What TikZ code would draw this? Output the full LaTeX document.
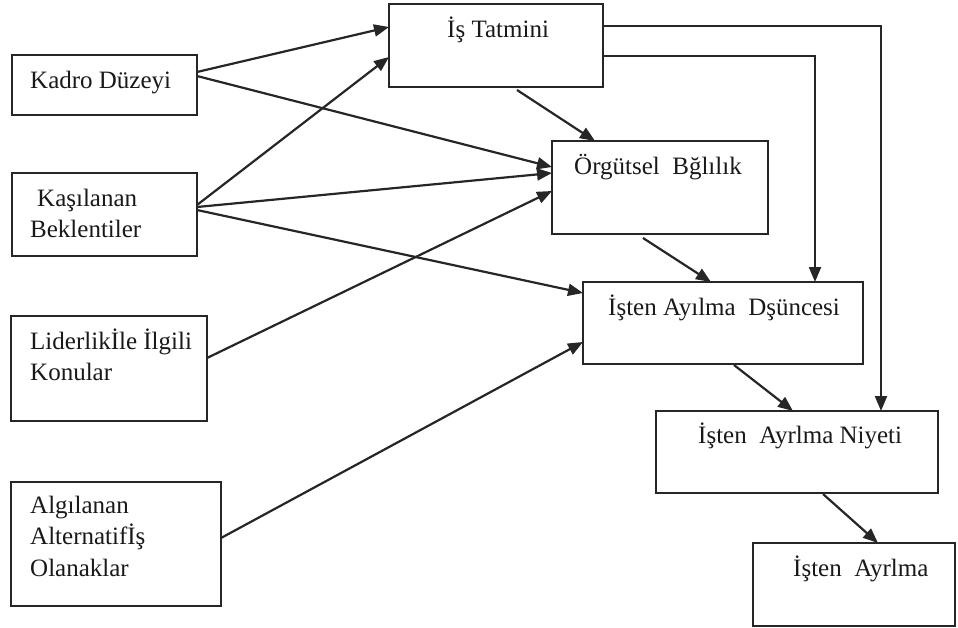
\documentclass[tikz,border=0pt]{standalone}
\usepackage{fontspec}
\setmainfont{Liberation Serif}
\usetikzlibrary{arrows.meta,calc}
\begin{document}
\begin{tikzpicture}[x=1pt,y=-1pt,
  box/.style={draw=black!85,line width=2pt,rectangle,anchor=north west,inner sep=0pt,outer sep=0pt},
  lbl/.style={anchor=base west,inner sep=0pt,font=\fontsize{25}{30}\selectfont,text=black!90,align=left},
  conn/.style={draw=black!85,line width=2.2pt,-{Triangle[length=15pt,width=12pt]}}]
\useasboundingbox (0,0) rectangle (958,627);
% boxes
\node[box,minimum width=185pt,minimum height=60pt] (kadro) at (12,55) {};
\node[box,minimum width=185pt,minimum height=83pt] (kasil) at (12,173) {};
\node[box,minimum width=196pt,minimum height=105pt] (lider) at (11,316) {};
\node[box,minimum width=210pt,minimum height=124pt] (algi) at (11,482) {};
\node[box,minimum width=214pt,minimum height=83pt] (tatmin) at (389,4) {};
\node[box,minimum width=216pt,minimum height=93pt] (orgut) at (552,141) {};
\node[box,minimum width=280pt,minimum height=82pt] (dusun) at (583,282) {};
\node[box,minimum width=282pt,minimum height=82pt] (niyet) at (656,411) {};
\node[box,minimum width=202pt,minimum height=83pt] (ayril) at (753,543) {};
% labels
\node[lbl] (tkadro) at (30,88) {Kadro Düzeyi};
\node[lbl] (tkasil1) at (37,206) {Kaşılanan};
\node[lbl] (tkasil2) at (30,237) {Beklentiler};
\node[lbl] (tlider1) at (30,349) {Liderlikİle İlgili};
\node[lbl] (tlider2) at (30,380) {Konular};
\node[lbl] (talgi1) at (30,513) {Algılanan};
\node[lbl] (talgi2) at (30,544) {Alternatifİş};
\node[lbl] (talgi3) at (30,576) {Olanaklar};
\node[lbl] (ttatmin) at (447,37) {İş Tatmini};
\node[lbl] (torgut) at (574,174) {Örgütsel\ \ Bğlılık};
\node[lbl] (tdusun) at (608,315) {İşten Ayılma\ \ Dşüncesi};
\node[lbl] (tniyet) at (698,443) {İşten\ \ Ayrlma Niyeti};
\node[lbl] (tayril) at (793,576) {İşten\ \ Ayrlma};
% connectors
\draw[conn] ($(kadro.north east)+(0,17)$) -- ($(tatmin.north west)+(0,23)$);
\draw[conn] ($(kadro.north east)+(0,21)$) -- ($(orgut.north west)+(0,26)$);
\draw[conn] ($(kasil.north east)+(0,32)$) -- ($(tatmin.north west)+(0,53)$);
\draw[conn] ($(kasil.north east)+(0,34)$) -- ($(orgut.north west)+(0,32)$);
\draw[conn] ($(kasil.north east)+(0,37)$) -- ($(dusun.north west)+(0,11)$);
\draw[conn] ($(lider.north east)+(0,42)$) -- ($(orgut.north west)+(0,50)$);
\draw[conn] ($(algi.north east)+(0,56)$) -- ($(dusun.north west)+(0,60)$);
\draw[conn] ($(tatmin.south west)+(128,3)$) -- ($(orgut.north west)+(43,0)$);
\draw[conn] ($(orgut.south west)+(91,4)$) -- ($(dusun.north west)+(128,0)$);
\draw[conn] ($(tatmin.north east)+(0,52)$) -| ($(dusun.north west)+(232,0)$);
\draw[conn] ($(tatmin.north east)+(0,22)$) -| ($(niyet.north west)+(225,0)$);
\draw[conn] ($(dusun.south west)+(151,1)$) -- ($(niyet.north west)+(137,0)$);
\draw[conn] ($(niyet.south west)+(167,1)$) -- ($(ayril.north west)+(125,0)$);
\end{tikzpicture}
\end{document}
